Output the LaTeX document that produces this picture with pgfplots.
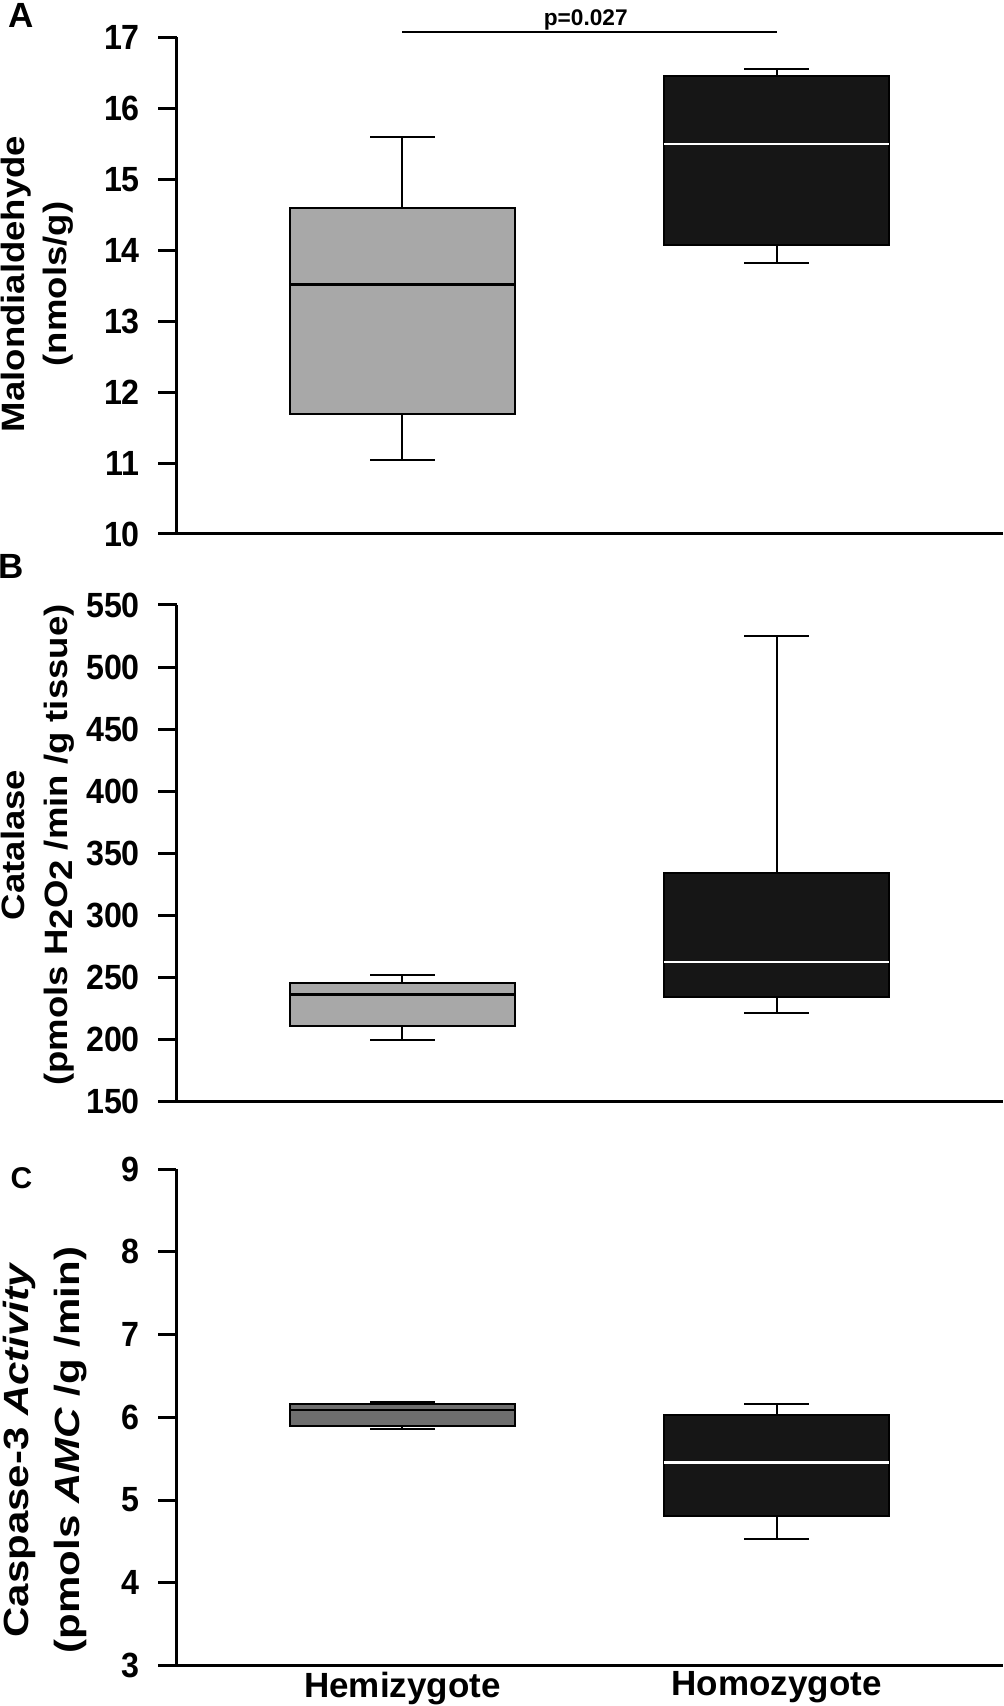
\documentclass[border=0pt]{standalone}
\usepackage{fontspec}
\setmainfont{Liberation Sans}
\newfontfamily\tickfont[FakeStretch=0.92]{Liberation Sans}
\newfontfamily\labfam[FakeStretch=1.13]{Liberation Sans}
\newfontfamily\labfamc[FakeStretch=1.2]{Liberation Sans}
\usepackage{pgfplots}
\pgfplotsset{compat=1.18}

\definecolor{hemi}{HTML}{A8A8A8}
\definecolor{hemidark}{HTML}{6E6E6E}
\definecolor{homo}{HTML}{161616}

\pgfplotsset{
  panel/.style={
    width=247.8pt, height=149pt, scale only axis,
    anchor=south west,
    axis x line*=bottom, axis y line*=left,
    axis line style={line width=0.9pt},
    xmin=0.396, xmax=2.604,
    xtick=\empty,
    tick align=outside,
    major tick length=5.4pt,
    every tick/.style={black, line width=0.9pt},
    y tick label style={font=\tickfont\bfseries\fontsize{10.5}{12}\selectfont, inner sep=0pt, xshift=-5.4pt},
    /pgf/number format/assume math mode=true,
    clip=false,
  },
  whisk/.style={black, line width=0.6pt, mark=none},
  hemibox/.style={draw=black, line width=0.6pt, fill=hemi, mark=none},
  homobox/.style={draw=black, line width=0.6pt, fill=homo, mark=none},
  hemimed/.style={black, line width=0.8pt, mark=none},
  homomed/.style={white, line width=0.7pt, mark=none},
}

\newcommand\labfont{\labfam\bfseries\fontsize{9.7}{12.8}\selectfont}
\newcommand\labfontc{\labfamc\bfseries\fontsize{10.5}{15.4}\selectfont}

\begin{document}
\begin{tikzpicture}
\path[use as bounding box] (0,0) rectangle (301.2pt,511.8pt);

% A: malondialdehyde
\begin{axis}[panel, at={(52.95pt,351.6pt)}, ymin=10, ymax=17, ytick={10,...,17}]
% Hemizygote: lw 11.04, q1 11.69, med 13.52, q3 14.6, uw 15.6
\addplot[whisk] coordinates {(0.9135,11.04) (1.0865,11.04) (1,11.04) (1,11.69)};
\addplot[whisk] coordinates {(0.9135,15.6) (1.0865,15.6) (1,15.6) (1,14.6)};
\addplot[hemibox] coordinates {(0.6985,11.69) (1.3015,11.69) (1.3015,14.6) (0.6985,14.6)} --cycle;
\addplot[hemimed] coordinates {(0.6985,13.52) (1.3015,13.52)};
% Homozygote: lw 13.82, q1 14.08, med 15.5, q3 16.45, uw 16.56
\addplot[whisk] coordinates {(1.9135,13.82) (2.0865,13.82) (2,13.82) (2,14.08)};
\addplot[whisk] coordinates {(1.9135,16.56) (2.0865,16.56) (2,16.56) (2,16.45)};
\addplot[homobox] coordinates {(1.6985,14.08) (2.3015,14.08) (2.3015,16.45) (1.6985,16.45)} --cycle;
\addplot[homomed] coordinates {(1.6985,15.5) (2.3015,15.5)};
% significance bar
\addplot[black, line width=0.6pt, mark=none] coordinates {(1,17.08) (2,17.08)};
\node[anchor=base, yshift=1.8pt, font=\bfseries\fontsize{6.8}{8}\selectfont] at (axis cs:1.49,17.08) {p=0.027};
\end{axis}

% B: catalase
\begin{axis}[panel, at={(52.95pt,181.3pt)}, ymin=150, ymax=550, ytick={150,200,...,550}]
\addplot[whisk] coordinates {(0.9135,199.5) (1.0865,199.5) (1,199.5) (1,211.3)};
\addplot[whisk] coordinates {(0.9135,251.9) (1.0865,251.9) (1,251.9) (1,245.3)};
\addplot[hemibox] coordinates {(0.6985,211.3) (1.3015,211.3) (1.3015,245.3) (0.6985,245.3)} --cycle;
\addplot[hemimed] coordinates {(0.6985,236.3) (1.3015,236.3)};
\addplot[whisk] coordinates {(1.9135,221.4) (2.0865,221.4) (2,221.4) (2,234.3)};
\addplot[whisk] coordinates {(1.9135,525.3) (2.0865,525.3) (2,525.3) (2,334.2)};
\addplot[homobox] coordinates {(1.6985,234.3) (2.3015,234.3) (2.3015,334.2) (1.6985,334.2)} --cycle;
\addplot[homomed] coordinates {(1.6985,262.5) (2.3015,262.5)};
\end{axis}

% C: caspase-3
\begin{axis}[panel, at={(52.95pt,12.1pt)}, ymin=3, ymax=9, ytick={3,...,9},
  xtick={1,2}, xticklabels={Hemizygote,Homozygote},
  x tick style={draw=none},
  x tick label style={font=\bfseries\fontsize{10.5}{12}\selectfont, inner sep=0pt, yshift=3.8pt}]
\addplot[whisk] coordinates {(0.9135,5.865) (1.0865,5.865) (1,5.865) (1,5.90)};
\addplot[whisk] coordinates {(0.9135,6.18) (1.0865,6.18) (1,6.18) (1,6.167)};
\addplot[hemibox, fill=hemidark] coordinates {(0.6985,5.90) (1.3015,5.90) (1.3015,6.167) (0.6985,6.167)} --cycle;
\addplot[hemimed] coordinates {(0.6985,6.09) (1.3015,6.09)};
\addplot[whisk] coordinates {(1.9135,4.525) (2.0865,4.525) (2,4.525) (2,4.81)};
\addplot[whisk] coordinates {(1.9135,6.158) (2.0865,6.158) (2,6.158) (2,6.03)};
\addplot[homobox] coordinates {(1.6985,4.81) (2.3015,4.81) (2.3015,6.03) (1.6985,6.03)} --cycle;
\addplot[homomed] coordinates {(1.6985,5.454) (2.3015,5.454)};
\end{axis}

% y labels and panel letters
\node[rotate=90, align=center, font=\labfont] at (11.2pt,426.6pt) {Malondialdehyde\\(nmols/g)};
\node[rotate=90, align=center, font=\labfont] at (11.3pt,258.3pt) {Catalase\\(pmols H\raisebox{-0.3ex}{2}O\raisebox{-0.3ex}{2} /min /g tissue)};
\node[rotate=90, align=center, font=\labfontc] at (13.6pt,76.8pt) {Caspase-3 \textit{Activity}\\(pmols \textit{AMC} /g /min)};
\node[font=\bfseries\fontsize{10.5}{12}\selectfont] at (6.3pt,507.3pt) {A};
\node[font=\bfseries\fontsize{10.5}{12}\selectfont] at (3.2pt,342pt) {B};
\node[font=\bfseries\fontsize{9}{10}\selectfont] at (6.45pt,158.4pt) {C};
\end{tikzpicture}
\end{document}
